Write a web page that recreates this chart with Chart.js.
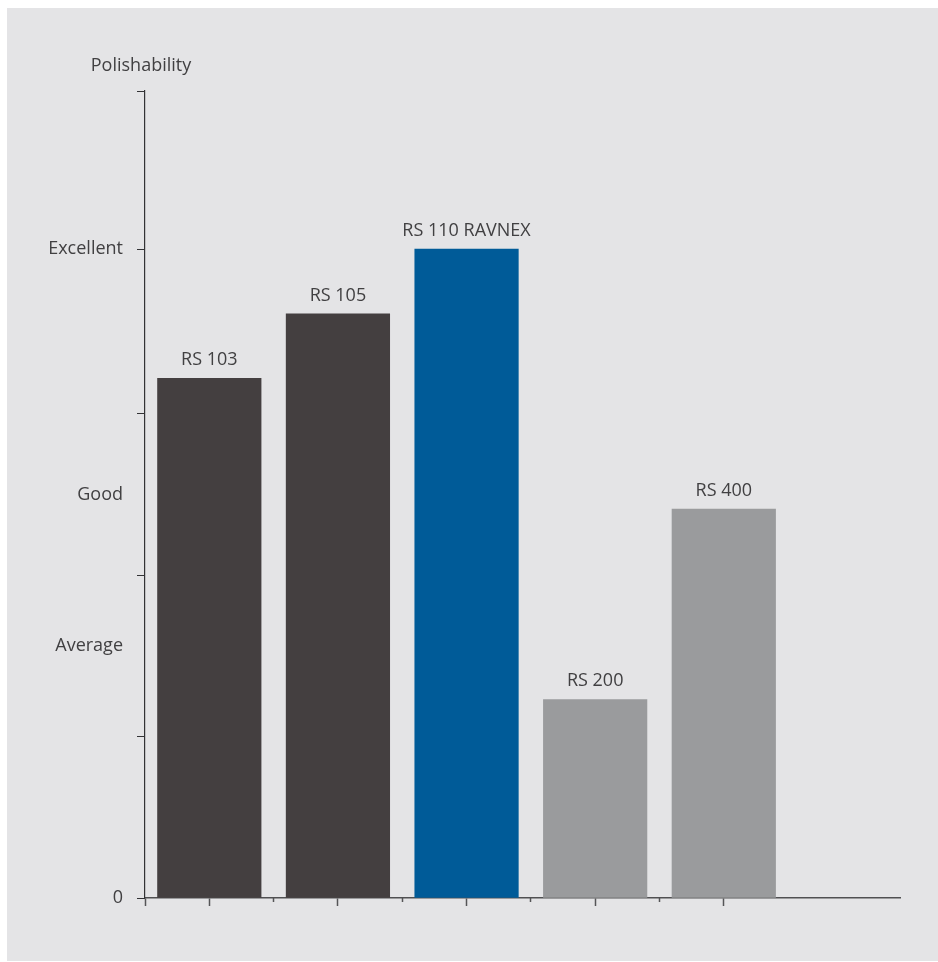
<!DOCTYPE html>
<html>
<head>
<meta charset="utf-8">
<script src="https://cdn.jsdelivr.net/npm/chart.js@4/dist/chart.umd.min.js"></script>
<style>
    html, body { margin: 0; padding: 0; background: #fff; }
    #wrap { position: absolute; left: 7px; top: 8px; width: 931px; height: 953px; background: #e4e4e6; }
</style>
</head>
<body>
<div id="wrap"><canvas id="polishChart"></canvas></div>
<script>
// data
const categories = ['RS 103', 'RS 105', 'RS 110 RAVNEX', 'RS 200', 'RS 400'];
const polishValues = [3.22, 3.62, 4.02, 1.23, 2.41];
const barColors = ['#443f40', '#443f40', '#005b98', '#9a9b9d', '#9a9b9d'];

// y axis: tick marks (the picture's are not quite even), word labels where the picture puts them
const yTickValues = [0, 1, 2, 3, 4.02, 5];
const yLabelValues = [0, 1.56, 2.5, 4.02];
const yLabelTexts = ['0', 'Average', 'Good', 'Excellent'];

// x axis: long marks at bar centres, short marks between bars
const xCenterTicks = [-0.5, 0, 1, 2, 3, 4];
const xBetweenTicks = [0.5, 1.5, 2.5, 3.5];

const FONT = "'Open Sans', sans-serif";
const TEXT = '#414042';

const barLabels = {
    id: 'barLabels',
    afterDatasetsDraw(chart) {
        const ctx = chart.ctx;
        const meta = chart.getDatasetMeta(0);
        ctx.save();
        ctx.font = '18px ' + FONT;
        ctx.fillStyle = TEXT;
        ctx.textAlign = 'center';
        ctx.textBaseline = 'alphabetic';
        meta.data.forEach((bar, i) => {
            ctx.fillText(categories[i], bar.x, bar.y - 13);
        });
        ctx.restore();
    }
};

const axisTitle = {
    id: 'axisTitle',
    afterDraw(chart) {
        const { ctx, chartArea } = chart;
        ctx.save();
        ctx.font = '18px ' + FONT;
        ctx.fillStyle = TEXT;
        ctx.textAlign = 'center';
        ctx.fillText('Polishability', chartArea.left - 4, chartArea.top - 20);
        ctx.restore();
    }
};

new Chart(document.getElementById('polishChart').getContext('2d'), {
    type: 'bar',
    data: {
        datasets: [{
            data: categories.map((c, i) => ({ x: i, y: polishValues[i] })),
            backgroundColor: barColors,
            borderWidth: 0,
            barThickness: 'flex',
            barPercentage: 1,
            categoryPercentage: 0.805
        }]
    },
    plugins: [barLabels, axisTitle],
    options: {
        responsive: true,
        maintainAspectRatio: false,
        animation: false,
        layout: { padding: { top: 83, right: 38, bottom: 55, left: 0 } },
        plugins: {
            legend: { display: false },
            tooltip: { enabled: false }
        },
        scales: {
            x: {
                type: 'linear',
                min: -0.5,
                max: 5.37,
                offset: false,
                afterBuildTicks: (s) => { s.ticks = xCenterTicks.map(v => ({ value: v })); },
                ticks: { display: false },
                grid: { drawOnChartArea: false, offset: false, tickLength: 8, tickColor: '#555557', tickWidth: 1.5 },
                border: { color: '#505052', width: 1.5 }
            },
            x2: {
                type: 'linear',
                axis: 'x',
                position: { y: 0 },
                min: -0.5,
                max: 5.37,
                offset: false,
                afterBuildTicks: (s) => { s.ticks = xBetweenTicks.map(v => ({ value: v })); },
                ticks: { display: false },
                grid: { drawOnChartArea: false, offset: false, tickLength: 4, tickColor: '#555557', tickWidth: 1.5 },
                border: { display: false }
            },
            y: {
                min: 0,
                max: 5,
                afterFit: (s) => { s.width = 138; },
                afterBuildTicks: (s) => {
                    const vals = [...new Set(yTickValues.concat(yLabelValues))].sort((a, b) => a - b);
                    s.ticks = vals.map(v => ({ value: v }));
                },
                ticks: {
                    autoSkip: false,
                    padding: 14,
                    color: TEXT,
                    font: { family: FONT, size: 18 },
                    callback: (v) => {
                        const i = yLabelValues.indexOf(v);
                        return i >= 0 ? yLabelTexts[i] : '';
                    }
                },
                grid: {
                    drawOnChartArea: false,
                    tickLength: 8,
                    tickColor: (c) => yTickValues.includes(c.tick.value) ? '#333335' : 'transparent'
                },
                border: { color: '#333335', width: 1.2 }
            }
        }
    }
});
</script>
</body>
</html>
